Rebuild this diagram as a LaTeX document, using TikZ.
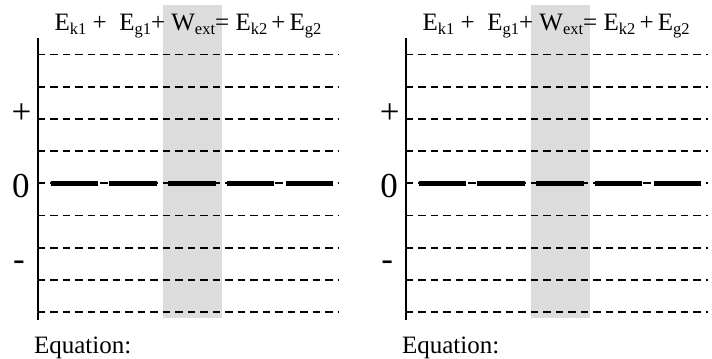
\documentclass[tikz,border=0pt]{standalone}
\usepackage{fontspec}
\setmainfont{Liberation Serif}
\usepackage{tikz}
\definecolor{shadegray}{HTML}{DCDCDC}
\newcommand{\lo}[1]{\raisebox{-0.35ex}{\fontsize{16.5}{16.5}\selectfont #1}}

\begin{document}
\begin{tikzpicture}[x=32.2pt,y=32.2pt]
  \useasboundingbox (-1.171,-5.425) rectangle (20.94,5.693);
  \foreach \p/\s in {0/L,11.43/R} {
  \begin{scope}[shift={(\p,0)}]
    \fill[shadegray] (3.89,-4.19) rectangle (5.72,5.54);
    \foreach \y in {-4,...,4} \draw[line width=1.7pt,dash pattern=on 7.5pt off 5pt] (0,\y) -- (9.37,\y);
    \draw[line width=4.7pt,dash pattern=on 47.5pt off 11.2pt] (0.404,0) -- (9.21,0);
    \draw[line width=2pt] (0,4.51) -- (0,-4.25);
    \node (plus\s) at (-0.5,2.18) {\fontsize{35}{35}\selectfont +};
    \node (zero\s) at (-0.52,-0.08) {\fontsize{35}{35}\selectfont 0};
    \node (minus\s) at (-0.58,-2.57) {\fontsize{35}{35}\selectfont -};
    \node[anchor=base west,inner sep=0] (eq\s) at (0.52,4.76)
      {\fontsize{25}{25}\selectfont E\lo{k1} + ~E\lo{g1}+ W\lo{ext}= E\lo{k2}\,+\,E\lo{g2}};
    \node[anchor=base west,inner sep=0] (note\s) at (-0.12,-5.27)
      {\fontsize{25}{25}\selectfont Equation:};
  \end{scope}
  }
\end{tikzpicture}
\end{document}
